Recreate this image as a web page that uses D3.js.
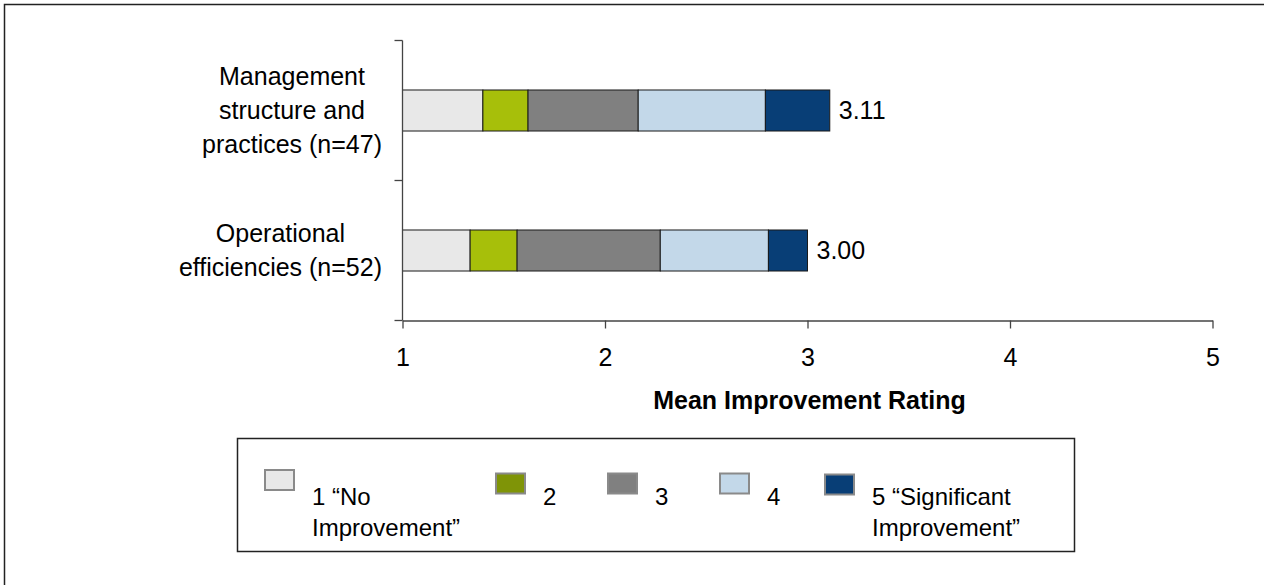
<!DOCTYPE html>
<html>
<head>
<meta charset="utf-8">
<script src="https://cdn.jsdelivr.net/npm/d3@7"></script>
<style>
  html, body { margin: 0; padding: 0; background: #fff; }
  svg { display: block; font-family: Arial, "Liberation Sans", sans-serif; }
</style>
</head>
<body>
<svg id="chart" width="1264" height="585"></svg>
<script>
// Categories (each label broken into the lines it is drawn on)
const categories = ["Management structure and practices (n=47)", "Operational efficiencies (n=52)"];
const categoryLines = [["Management", "structure and", "practices (n=47)"], ["Operational", "efficiencies (n=52)"]];

// Mean rating per category (bar end and value label)
const means = [3.11, 3.00];

// Rating levels and their share of each bar, in rating units
const levels = ["1", "2", "3", "4", "5"];
const levelLabels = [["1 \u201cNo", "Improvement\u201d"], ["2"], ["3"], ["4"], ["5 \u201cSignificant", "Improvement\u201d"]];
const mgmtSegments = [0.397, 0.223, 0.544, 0.628, 0.318];
const operSegments = [0.334, 0.232, 0.707, 0.534, 0.193];
const segments = [mgmtSegments, operSegments];

// Axis ticks
const xTicks = [1, 2, 3, 4, 5];
const xTitle = "Mean Improvement Rating";

// Fill colours per level (bars and legend swatches)
const barColors = ["#e8e8e8", "#a7bf0a", "#808080", "#c3d8e9", "#083e76"];
const legendColors = ["#e8e8e8", "#7f9407", "#808080", "#c3d8e9", "#083e76"];

const svg = d3.select("#chart");
const FONT = 24;
const CAT_FONT = 25;

// Outer frame (runs off the right and bottom edges)
svg.append("rect")
  .attr("x", 4.5).attr("y", 4.5)
  .attr("width", 1400).attr("height", 700)
  .attr("fill", "none").attr("stroke", "#222").attr("stroke-width", 1.5);

const x = d3.scaleLinear().domain([1, 5]).range([402.5, 1212.5]);
const y = d3.scaleBand().domain(categories).range([40.5, 320.5])
  .paddingInner(0.707).paddingOuter(0.3535);

// Stacked bars
const stacks = categories.map((c, i) => {
  let start = 1;
  return segments[i].map((w, k) => {
    const s = { cat: c, level: k, x0: start, x1: start + w };
    start += w;
    return s;
  });
});
// close each bar exactly on its mean
stacks.forEach((st, i) => { st[st.length - 1].x1 = means[i]; });

const gBars = svg.append("g");
stacks.forEach(st => {
  gBars.selectAll(null).data(st).enter().append("rect")
    .attr("x", d => x(d.x0))
    .attr("y", d => y(d.cat))
    .attr("width", d => x(d.x1) - x(d.x0))
    .attr("height", y.bandwidth())
    .attr("fill", d => barColors[d.level])
    .attr("stroke", "#1a1a1a")
    .attr("stroke-width", 1);
});

// Value labels
svg.append("g").selectAll("text").data(categories).enter().append("text")
  .attr("x", (c, i) => x(means[i]) + 9)
  .attr("y", c => y(c) + y.bandwidth() / 2 + 8)
  .attr("font-size", CAT_FONT).attr("fill", "#000")
  .text((c, i) => means[i].toFixed(2));

// X axis
const xAxis = d3.axisBottom(x).tickValues(xTicks).tickSize(8).tickSizeOuter(0).tickPadding(20)
  .tickFormat(d3.format("d"));
const gx = svg.append("g").attr("transform", `translate(0,${y.range()[1]})`).call(xAxis);
gx.select(".domain").attr("stroke", "#444").attr("stroke-width", 1.3);
gx.selectAll(".tick line").attr("stroke", "#444").attr("stroke-width", 1.3);
gx.selectAll(".tick text").attr("font-size", CAT_FONT).attr("font-family", "Arial, 'Liberation Sans', sans-serif")
  .attr("fill", "#000");

// Y axis line with ticks between categories
const yTop = y.range()[0], yBot = y.range()[1];
const gy = svg.append("g");
gy.append("line").attr("x1", x(1)).attr("x2", x(1)).attr("y1", yTop).attr("y2", yBot)
  .attr("stroke", "#444").attr("stroke-width", 1.3);
const yTickPos = [yTop].concat(categories.map(c => y(c) + y.bandwidth() / 2 + y.step() / 2));
gy.selectAll(".yt").data(yTickPos).enter().append("line")
  .attr("x1", x(1) - 8).attr("x2", x(1)).attr("y1", d => d).attr("y2", d => d)
  .attr("stroke", "#444").attr("stroke-width", 1.3);

// Category labels: lines centred on each other, block right-aligned
const lineH = 34;
categories.forEach((c, i) => {
  const lines = categoryLines[i];
  const cy = y(c) + y.bandwidth() / 2;
  const g = svg.append("g");
  const texts = g.selectAll("text").data(lines).enter().append("text")
    .attr("font-size", CAT_FONT).attr("fill", "#000").attr("text-anchor", "middle")
    .attr("y", (l, k) => cy + 8 + (k - (lines.length - 1) / 2) * lineH)
    .text(l => l);
  let maxW = 0;
  texts.each(function () { maxW = Math.max(maxW, this.getComputedTextLength()); });
  texts.attr("x", 382 - maxW / 2);
});

// Axis title
svg.append("text")
  .attr("x", (x(1) + x(5)) / 2 + 2).attr("y", 409)
  .attr("text-anchor", "middle").attr("font-size", 25).attr("font-weight", "bold")
  .text(xTitle);

// Legend
svg.append("rect").attr("x", 237.5).attr("y", 438.5).attr("width", 837).attr("height", 113)
  .attr("fill", "#fff").attr("stroke", "#222").attr("stroke-width", 1.5);

const legendX = [265, 496, 608, 720, 825];
const swatchY = [470, 473.5, 473.5, 473.5, 474.5];
const gl = svg.append("g");
levels.forEach((lv, k) => {
  gl.append("rect")
    .attr("x", legendX[k]).attr("y", swatchY[k]).attr("width", 29).attr("height", 20)
    .attr("fill", legendColors[k]).attr("stroke", "#8a8a8a").attr("stroke-width", 2);
  gl.append("text")
    .attr("font-size", FONT).attr("fill", "#000")
    .selectAll("tspan").data(levelLabels[k]).enter().append("tspan")
    .attr("x", legendX[k] + 47)
    .attr("y", (l, j) => 505 + j * 31)
    .text(l => l);
});
</script>
</body>
</html>
